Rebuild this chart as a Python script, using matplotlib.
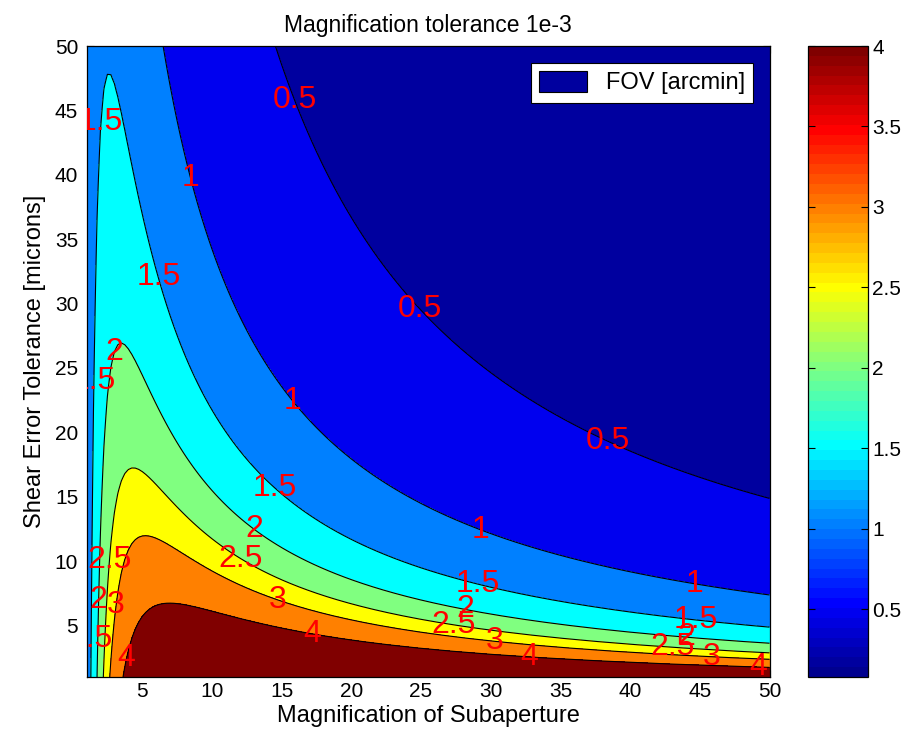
import numpy as np
import matplotlib
matplotlib.use("Agg")
import matplotlib.pyplot as plt
from matplotlib import colors as mcolors
from matplotlib.patches import Patch

plt.rcParams['font.family'] = ['Liberation Sans', 'DejaVu Sans']

# grid: magnification of subaperture (x) and shear error tolerance in microns (y)
magnification = np.linspace(1, 50, 197)
shear_tol = np.linspace(1, 50, 197)

# FOV model fitted to the contour lines: 1/FOV = M*s/shear_coef + mag_coef/M
shear_coef = 375.0
mag_coef = 0.87

levels = [0.5, 1, 1.5, 2, 2.5, 3, 4]
cbar_range = [0.08, 4]
cbar_ticks = [0.5, 1, 1.5, 2, 2.5, 3, 3.5, 4]
axis_ticks = [5, 10, 15, 20, 25, 30, 35, 40, 45, 50]

# where the red contour labels sit
label_level = [0.5, 0.5, 0.5, 1.5, 1, 1.5, 2, 1.5, 1, 1.5, 2, 2.5, 2.5, 2, 3, 1.5, 4,
               3, 4, 1, 1.5, 2, 2.5, 3, 4, 1, 1.5, 2, 2.5, 3, 4]
label_x = [15.96, 24.9, 38.55, 1.75, 8.28, 6.06, 3.04, 1.39, 15.74, 14.5, 13.1, 12.0, 2.47, 1.6, 3.0, 1.25, 3.62,
           14.74, 17.2, 29.3, 29.1, 28.2, 27.4, 30.3, 32.8, 44.65, 44.7, 44.1, 43.1, 45.9, 49.2]
label_y = [45.8, 29.5, 19.6, 44.1, 39.7, 32.0, 26.2, 24.0, 22.35, 15.7, 12.6, 10.1, 10.1, 7.0, 6.6, 3.95, 2.55,
           7.0, 4.4, 12.6, 8.4, 6.4, 5.3, 4.0, 2.7, 8.4, 5.7, 4.9, 3.6, 2.9, 1.9]


def matlab_jet(m=64):
    # same construction as MATLAB's jet(m)
    n = int(np.ceil(m / 4))
    u = np.concatenate([np.arange(1, n + 1) / n, np.ones(n - 1), np.arange(n, 0, -1) / n])
    g = int(np.ceil(n / 2)) - (1 if m % 4 == 1 else 0) + np.arange(1, len(u) + 1)
    rgb = np.zeros((m, 3))
    for col, idx in enumerate((g + n, g, g - n)):
        ok = (idx >= 1) & (idx <= m)
        rgb[idx[ok] - 1, col] = u[ok]
    return mcolors.ListedColormap(rgb)


M, S = np.meshgrid(magnification, shear_tol)
fov = 1.0 / (M * S / shear_coef + mag_coef / M)

cmap = matlab_jet(64)
norm = mcolors.Normalize(*cbar_range)
bounds = [fov.min()] + levels + [fov.max()]
band_colors = [cmap(norm(b)) for b in bounds[:-1]]

fig = plt.figure(figsize=(9.08, 7.40), dpi=100)
ax = fig.add_axes([86.5 / 908, 63 / 740, 683 / 908, 631 / 740])

ax.contourf(M, S, fov, levels=bounds, colors=band_colors)

label_texts = []
for lev in levels:
    cs = ax.contour(M, S, fov, levels=[lev], colors='k', linewidths=0.8)
    pts = [(x, y) for l, x, y in zip(label_level, label_x, label_y) if l == lev]
    if pts:
        label_texts += cs.clabel(manual=pts, inline=False, fontsize=23, colors='r', fmt='%g')
for t in label_texts:
    t.set_rotation(0)
    t.set_clip_on(True)
    t.set_clip_path(ax.patch)

ax.set_xlim(1, 50)
ax.set_ylim(1, 50)
ax.set_xticks(axis_ticks)
ax.set_yticks(axis_ticks)
ax.set_axisbelow(True)
ax.tick_params(direction='in', top=True, right=True, labelsize=15, length=5)
ax.tick_params(axis='y', pad=6)
for sp in ax.spines.values():
    sp.set_linewidth(0.9)

ax.set_title('Magnification tolerance 1e-3', fontsize=16.5, pad=10)
ax.set_xlabel('Magnification of Subaperture', fontsize=17, labelpad=3)
ax.set_ylabel('Shear Error Tolerance [microns]', fontsize=17, labelpad=6)

handle = Patch(facecolor=band_colors[0], edgecolor='k', linewidth=0.8)
leg = ax.legend([handle], ['FOV [arcmin]'], loc='upper right', fontsize=17, frameon=True,
                fancybox=False, framealpha=1, edgecolor='k', handlelength=2.0, handleheight=1.0,
                borderaxespad=0.7, borderpad=0.35)
leg.get_frame().set_linewidth(0.8)

cax = fig.add_axes([808 / 908, 63 / 740, 60 / 908, 631 / 740])
sm = plt.cm.ScalarMappable(norm=norm, cmap=cmap)
cb = fig.colorbar(sm, cax=cax, ticks=cbar_ticks)
cb.ax.set_yticklabels([f'{t:g}' for t in cbar_ticks])
cax.tick_params(direction='in', left=True, right=True, length=5, labelsize=15, width=0.8, pad=3)
cb.outline.set_linewidth(0.9)

fig.savefig('out.png', dpi=100)
